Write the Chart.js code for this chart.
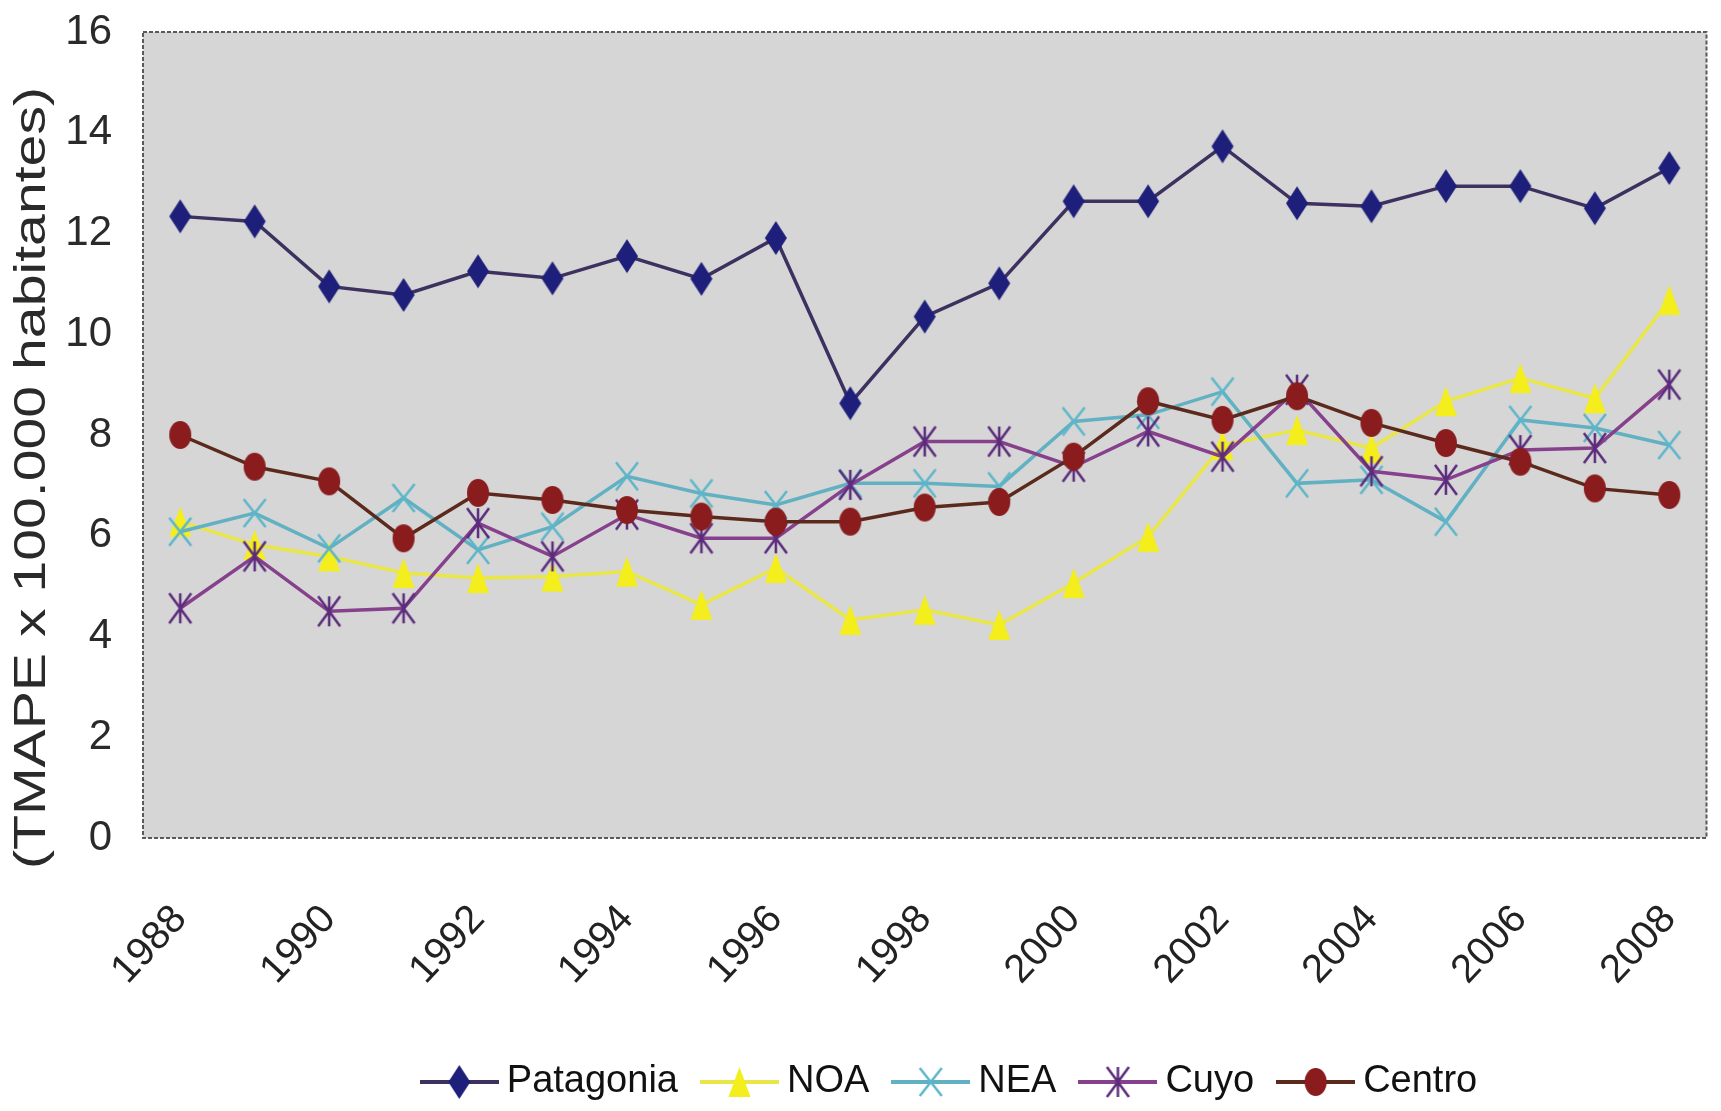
<!DOCTYPE html>
<html>
<head>
<meta charset="utf-8">
<script src="https://cdn.jsdelivr.net/npm/chart.js@4.4.1/dist/chart.umd.min.js"></script>
<style>
  html, body { margin: 0; padding: 0; background: #fff; }
</style>
</head>
<body>
<canvas id="tmapeChart" width="1721" height="1111"></canvas>
<script>
// data
const years = ["1988", "1989", "1990", "1991", "1992", "1993", "1994", "1995", "1996", "1997", "1998",
               "1999", "2000", "2001", "2002", "2003", "2004", "2005", "2006", "2007", "2008"];
const patagonia = [12.34, 12.24, 10.95, 10.78, 11.25, 11.11, 11.55, 11.1, 11.91, 8.63, 10.35,
                   11.01, 12.64, 12.64, 13.73, 12.6, 12.54, 12.94, 12.94, 12.5, 13.3];
const noa = [6.28, 5.82, 5.59, 5.26, 5.16, 5.19, 5.29, 4.63, 5.36, 4.33, 4.53,
             4.23, 5.06, 5.98, 7.8, 8.1, 7.74, 8.67, 9.13, 8.73, 10.68];
const nea = [6.08, 6.45, 5.75, 6.75, 5.72, 6.18, 7.18, 6.84, 6.61, 7.04, 7.04,
             6.98, 8.27, 8.4, 8.86, 7.04, 7.11, 6.28, 8.3, 8.14, 7.8];
const cuyo = [4.56, 5.59, 4.5, 4.56, 6.25, 5.59, 6.42, 5.95, 5.95, 7.01, 7.87,
              7.87, 7.37, 8.07, 7.57, 8.9, 7.28, 7.11, 7.7, 7.74, 9.0];
const centro = [8.0, 7.37, 7.08, 5.95, 6.85, 6.71, 6.51, 6.38, 6.28, 6.28, 6.56,
                6.67, 7.57, 8.67, 8.3, 8.77, 8.24, 7.84, 7.47, 6.94, 6.81];
const yTicks = [0, 2, 4, 6, 8, 10, 12, 14, 16];
const yTitle = "(TMAPE x 100.000 habitantes)";

const sans = "'Liberation Sans', Arial, sans-serif";

// marker shapes are a bit taller than wide, like in the scan
function drawMarker(ctx, kind, cx, cy, w, h, color) {
    ctx.save();
    ctx.fillStyle = color;
    ctx.strokeStyle = color;
    ctx.lineWidth = 2.5;
    ctx.beginPath();
    if (kind === "diamond") {
        ctx.moveTo(cx, cy - h / 2);
        ctx.lineTo(cx + w / 2, cy);
        ctx.lineTo(cx, cy + h / 2);
        ctx.lineTo(cx - w / 2, cy);
        ctx.closePath();
        ctx.fill();
    } else if (kind === "triangle") {
        ctx.moveTo(cx, cy - h / 2);
        ctx.lineTo(cx + w / 2, cy + h / 2);
        ctx.lineTo(cx - w / 2, cy + h / 2);
        ctx.closePath();
        ctx.fill();
    } else if (kind === "circle") {
        ctx.ellipse(cx, cy, w / 2, h / 2, 0, 0, Math.PI * 2);
        ctx.fill();
    } else {
        ctx.moveTo(cx - w / 2, cy - h / 2);
        ctx.lineTo(cx + w / 2, cy + h / 2);
        ctx.moveTo(cx + w / 2, cy - h / 2);
        ctx.lineTo(cx - w / 2, cy + h / 2);
        if (kind === "star") {
            ctx.moveTo(cx, cy - h / 2);
            ctx.lineTo(cx, cy + h / 2);
        }
        ctx.stroke();
    }
    ctx.restore();
}

function markerImage(kind, w, h, color) {
    const c = document.createElement("canvas");
    c.width = w + 4;
    c.height = h + 4;
    drawMarker(c.getContext("2d"), kind, c.width / 2, c.height / 2, w, h, color);
    return c;
}

function legendImage(kind, w, h, color, lineColor) {
    const c = document.createElement("canvas");
    c.width = 79;
    c.height = h + 6;
    const ctx = c.getContext("2d");
    ctx.strokeStyle = lineColor;
    ctx.lineWidth = 4;
    ctx.beginPath();
    ctx.moveTo(0, c.height / 2);
    ctx.lineTo(c.width, c.height / 2);
    ctx.stroke();
    drawMarker(ctx, kind, c.width / 2, c.height / 2, w, h, color);
    return c;
}

const seriesStyle = [
    { label: "Patagonia", data: patagonia, kind: "diamond", w: 22, h: 34, marker: "#1d1f7a", line: "#3d3160" },
    { label: "NOA", data: noa, kind: "triangle", w: 22, h: 30, marker: "#f3ee1c", line: "#e9e648" },
    { label: "NEA", data: nea, kind: "x", w: 22, h: 28, marker: "#5cb6c9", line: "#62b1c2" },
    { label: "Cuyo", data: cuyo, kind: "star", w: 22, h: 30, marker: "#5b2b7c", line: "#86408c" },
    { label: "Centro", data: centro, kind: "circle", w: 22, h: 28, marker: "#8a1c1e", line: "#5c2a1c" }
];

const plotFrame = {
    id: "plotFrame",
    beforeDatasetsDraw(chart) {
        const { ctx, chartArea: a } = chart;
        ctx.save();
        ctx.fillStyle = "#d6d6d6";
        ctx.fillRect(a.left, a.top, a.right - a.left, a.bottom - a.top);
        ctx.setLineDash([4, 2]);
        ctx.strokeStyle = "#5a5a5a";
        ctx.lineWidth = 2;
        ctx.strokeRect(a.left, a.top, a.right - a.left, a.bottom - a.top);
        ctx.restore();
    }
};

// y title is drawn by hand so it can sit lower than the axis centre and be stretched like the scan
const yTitlePlugin = {
    id: "yTitle",
    afterDraw(chart) {
        const ctx = chart.ctx;
        ctx.save();
        ctx.translate(33, 478);
        ctx.rotate(-Math.PI / 2);
        ctx.scale(1.3, 1);
        ctx.font = "44px " + sans;
        ctx.fillStyle = "#2a2a2a";
        ctx.textAlign = "center";
        ctx.textBaseline = "middle";
        ctx.fillText(yTitle, 0, 0);
        ctx.restore();
    }
};

const legendShift = {
    id: "legendShift",
    afterLayout(chart) {
        chart.legend.left += 95;
        chart.legend.right += 95;
    }
};

const legendImages = seriesStyle.map(s => legendImage(s.kind, s.w, s.h, s.marker, s.line));

new Chart(document.getElementById("tmapeChart").getContext("2d"), {
    type: "line",
    data: {
        labels: years,
        datasets: seriesStyle.map((s, i) => ({
            label: s.label,
            data: s.data,
            borderColor: s.line,
            backgroundColor: s.marker,
            borderWidth: 3.5,
            tension: 0,
            pointStyle: markerImage(s.kind, s.w, s.h, s.marker),
            pointRadius: 11,
            order: seriesStyle.length - i
        }))
    },
    options: {
        responsive: false,
        animation: false,
        devicePixelRatio: 1,
        layout: { padding: { top: 32, right: 3, left: 0, bottom: 0 } },
        plugins: {
            legend: {
                position: "bottom",
                labels: {
                    usePointStyle: true,
                    pointStyleWidth: 57,
                    padding: 33,
                    color: "#111",
                    font: { family: sans, size: 38 },
                    sort: (a, b) => a.datasetIndex - b.datasetIndex,
                    generateLabels: chart => Chart.defaults.plugins.legend.labels.generateLabels(chart)
                        .map(item => Object.assign(item, { pointStyle: legendImages[item.datasetIndex] }))
                }
            },
            tooltip: { enabled: false }
        },
        scales: {
            x: {
                offset: true,
                grid: { display: false, drawTicks: false },
                border: { display: false },
                ticks: {
                    autoSkip: false,
                    minRotation: 47,
                    maxRotation: 47,
                    padding: 58,
                    color: "#222",
                    font: { family: sans, size: 40 },
                    callback: function (value, index) {
                        return index % 2 === 0 ? this.getLabelForValue(value) : "";
                    }
                },
                afterFit: scale => {
                    scale.height = 1030 - 838;
                    scale.paddingLeft = 0;
                    scale.paddingRight = 0;
                }
            },
            y: {
                min: 0,
                max: 16,
                grid: { display: false, drawTicks: false },
                border: { display: false },
                afterBuildTicks: scale => { scale.ticks = yTicks.map(v => ({ value: v })); },
                ticks: {
                    padding: 31,
                    color: "#2a2a2a",
                    font: { family: sans, size: 42 }
                },
                afterFit: scale => {
                    scale.width = 143;
                    scale.paddingTop = 0;
                    scale.paddingBottom = 0;
                }
            }
        }
    },
    plugins: [plotFrame, yTitlePlugin, legendShift]
});
</script>
</body>
</html>
